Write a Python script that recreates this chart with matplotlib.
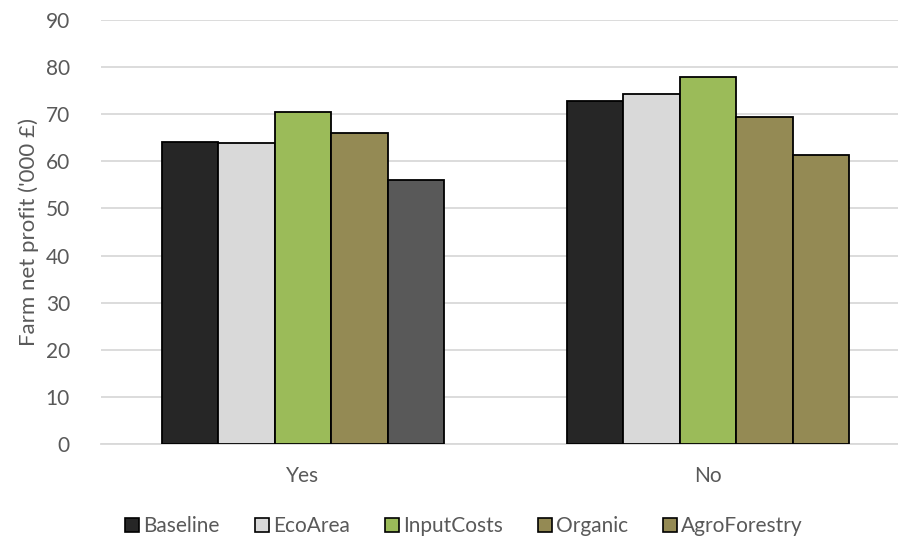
import matplotlib
matplotlib.use("Agg")
import matplotlib.pyplot as plt
import numpy as np

categories = ["Yes", "No"]
scenarios = ["Baseline", "EcoArea", "InputCosts", "Organic", "AgroForestry"]
values = {
    "Baseline":     [64.1, 72.8],
    "EcoArea":      [63.9, 74.3],
    "InputCosts":   [70.5, 77.8],
    "Organic":      [66.0, 69.4],
    "AgroForestry": [56.0, 61.3],
}
colors = {
    "Baseline": "#262626",
    "EcoArea": "#D9D9D9",
    "InputCosts": "#9BBB59",
    "Organic": "#948A54",
    "AgroForestry": "#948A54",
}
# per-bar colour overrides (AgroForestry in the "Yes" group is shaded grey)
bar_colors = {
    "AgroForestry": ["#595959", "#948A54"],
}
y_ticks = [0, 10, 20, 30, 40, 50, 60, 70, 80, 90]

plt.rcParams["font.family"] = ["Lato", "DejaVu Sans"]
text_color = "#595959"
fs = 15

fig = plt.figure(figsize=(8.98, 5.39), dpi=100)
ax = fig.add_axes([100.5 / 898, 1 - 444 / 539, 1 - 100.5 / 898, (444 - 20) / 539])

x = np.arange(len(categories))
group_width = 0.696
bw = group_width / len(scenarios)
for i, s in enumerate(scenarios):
    offs = x - group_width / 2 + bw * (i + 0.5)
    fc = bar_colors.get(s, [colors[s]] * len(categories))
    ax.bar(offs, values[s], width=bw, color=fc, edgecolor="black",
           linewidth=1.3, zorder=3, label=s)

ax.set_xlim(-0.5, -0.5 + (898 - 100.5) / 405)
ax.set_ylim(0, 90)
ax.set_yticks(y_ticks)
ax.set_xticks(x)
ax.set_xticklabels(categories)
ax.tick_params(axis="both", length=0, labelsize=fs, colors=text_color)
ax.tick_params(axis="y", pad=22)
ax.tick_params(axis="x", pad=16)
ax.yaxis.grid(True, color="#D9D9D9", linewidth=1.3, zorder=0)
for sp in ["top", "right", "left"]:
    ax.spines[sp].set_visible(False)
ax.spines["bottom"].set_color("#D9D9D9")
ax.spines["bottom"].set_linewidth(1.3)
ax.set_ylabel("Farm net profit ('000 £)", fontsize=16, color=text_color, labelpad=5)

handles = [plt.Rectangle((0, 0), 1, 1, facecolor=colors[s], edgecolor="black", linewidth=1.2)
           for s in scenarios]
leg = fig.legend(handles, scenarios, loc="center", bbox_to_anchor=(464 / 898, 1 - 526 / 539),
                 ncol=5, frameon=False, fontsize=fs, handlelength=0.65, handleheight=0.65,
                 handletextpad=0.2, columnspacing=1.7)
for t in leg.get_texts():
    t.set_color(text_color)

fig.savefig("out.png", dpi=100)
